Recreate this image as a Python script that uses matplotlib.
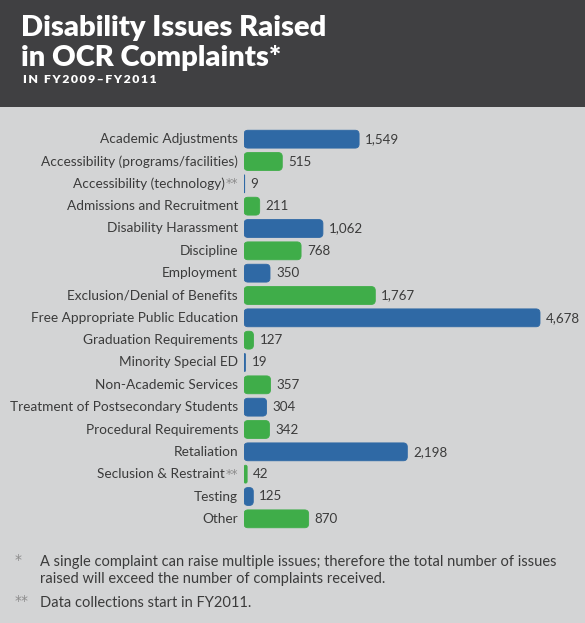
import numpy as np
import matplotlib
matplotlib.use('Agg')
import matplotlib.pyplot as plt
from matplotlib.patches import FancyBboxPatch, Rectangle

plt.rcParams['font.family'] = ['Lato', 'DejaVu Sans']

categories = ['Academic Adjustments', 'Accessibility (programs/facilities)',
              'Accessibility (technology)**', 'Admissions and Recruitment',
              'Disability Harassment', 'Discipline', 'Employment',
              'Exclusion/Denial of Benefits', 'Free Appropriate Public Education',
              'Graduation Requirements', 'Minority Special ED',
              'Non-Academic Services', 'Treatment of Postsecondary Students',
              'Procedural Requirements', 'Retaliation', 'Seclusion & Restraint**',
              'Testing', 'Other']
values = [1549, 515, 9, 211, 1062, 768, 350, 1767, 4678, 127, 19, 357, 304,
          342, 2198, 42, 125, 870]
value_labels = ['1,549', '515', '9', '211', '1,062', '768', '350', '1,767',
                '4,678', '127', '19', '357', '304', '342', '2,198', '42', '125', '870']

BLUE = '#2f69a5'
GREEN = '#3fad49'
BG = '#d3d4d5'
HEAD = '#404042'
TXT = '#3b3b3b'
STAR = '#8c8c8c'
STAR_FONT = ['DejaVu Sans']

W, H = 585, 623
fig = plt.figure(figsize=(W / 100, H / 100), dpi=100, facecolor=BG)

# header band
fig.patches.append(Rectangle((0, 1 - 107 / H), 1, 107 / H, transform=fig.transFigure,
                             facecolor=HEAD, edgecolor='none', zorder=0))
fig.text(21 / W, 1 - 36 / H, 'Disability Issues Raised', color='white',
         fontsize=21, fontweight='heavy', va='baseline')
fig.text(21 / W, 1 - 66 / H, 'in OCR Complaints*', color='white',
         fontsize=21, fontweight='heavy', va='baseline')
fig.text(23 / W, 1 - 83 / H, '\u2009'.join('IN FY2009–FY2011'),
         color='white', fontsize=8.8, fontweight='heavy', va='baseline')

# bar area, px scale ~0.0743 per issue; longest bar is shortened like the original
x_max = 341 / 0.0743
cap = 296 / 0.0743
ax = fig.add_axes([244 / W, 1 - 530 / H, 341 / W, 402 / H])
ax.set_facecolor('none')
ax.set_xlim(0, x_max)
ax.set_ylim(len(values) - 0.5, -0.5)
ax.axis('off')

px_x = 341 / x_max
px_y = 402 / len(values)
shown = np.minimum(values, cap)
colors = [BLUE if i % 2 == 0 else GREEN for i in range(len(values))]
bars = ax.barh(range(len(values)), shown, height=0.8, color='none')
for b, c in zip(bars, colors):
    x, y, w, h = b.get_x(), b.get_y(), b.get_width(), b.get_height()
    r = min(4 / px_x, w / 2)
    p = FancyBboxPatch((x, y), w, h, boxstyle=f'round,pad=0,rounding_size={r}',
                       mutation_aspect=px_x / px_y, facecolor=c,
                       edgecolor=c, linewidth=0.6)
    ax.add_patch(p)
    b.remove()

for i, (v, lab) in enumerate(zip(shown, value_labels)):
    ax.text(v + 6 / px_x, i, lab, va='center', ha='left', fontsize=9.6, color=TXT)

# category labels, footnote stars in lighter grey
fig.canvas.draw()
rend = fig.canvas.get_renderer()
lx = 238 / W
for i, name in enumerate(categories):
    yc = 1 - (139 + i * 22.35) / H
    if name.endswith('**'):
        t = fig.text(lx, yc, '**', ha='right', va='center', fontsize=9,
                     color=STAR, family=STAR_FONT)
        wpx = t.get_window_extent(rend).width
        fig.text(lx - (wpx + 1) / W, yc, name[:-2], ha='right', va='center',
                 fontsize=9.8, color=TXT)
    else:
        fig.text(lx, yc, name, ha='right', va='center', fontsize=9.8, color=TXT)

# footnotes
fig.text(15 / W, 1 - 560 / H, '*', fontsize=10, color=STAR, va='center', family=STAR_FONT)
fig.text(40 / W, 1 - 562 / H, 'A single complaint can raise multiple issues; therefore the total number of issues',
         fontsize=10.5, color=TXT, va='center')
fig.text(40 / W, 1 - 579 / H, 'raised will exceed the number of complaints received.',
         fontsize=10.5, color=TXT, va='center')
fig.text(15 / W, 1 - 601 / H, '**', fontsize=10, color=STAR, va='center', family=STAR_FONT)
fig.text(40 / W, 1 - 603 / H, 'Data collections start in FY2011.',
         fontsize=10.5, color=TXT, va='center')

fig.savefig('out.png', dpi=100, facecolor=BG)
